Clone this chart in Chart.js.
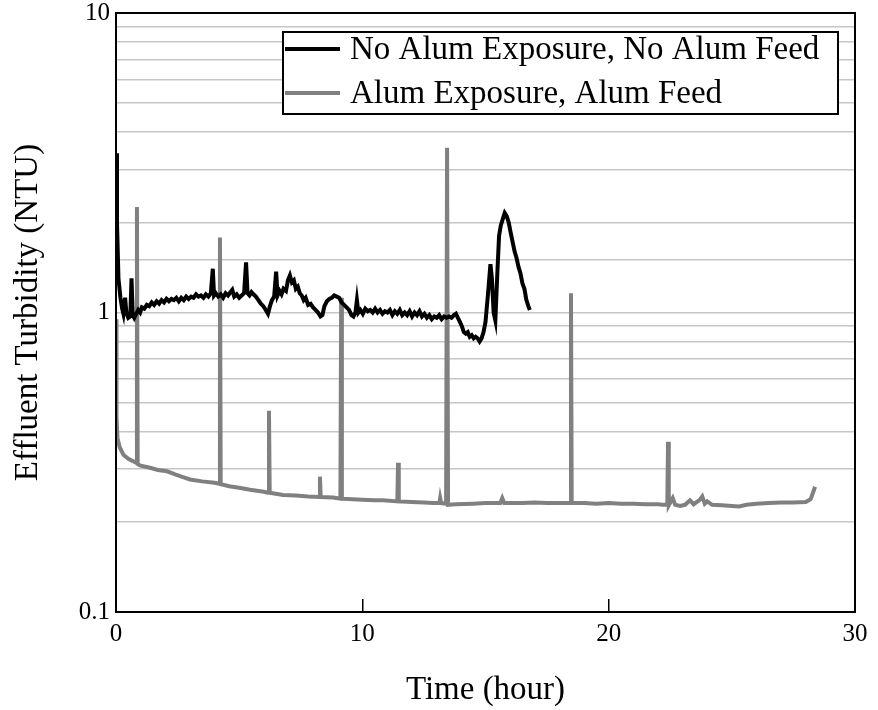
<!DOCTYPE html>
<html>
<head>
<meta charset="utf-8">
<script src="https://cdn.jsdelivr.net/npm/chart.js@4.4.1/dist/chart.umd.min.js"></script>
<style>
  html, body { margin: 0; padding: 0; background: #fff; }
  #wrap { width: 878px; height: 710px; }
</style>
</head>
<body>
<div id="wrap"><canvas id="turbidityChart" width="878" height="710"></canvas></div>
<script>
// Series labels
const seriesLabels = ['No Alum Exposure, No Alum Feed', 'Alum Exposure, Alum Feed'];

// No alum exposure, no alum feed (black)
const noAlumTime = [0, 0.04, 0.1, 0.18, 0.25, 0.3, 0.37, 0.42, 0.5, 0.58, 0.63, 0.68, 0.74, 0.82, 0.9, 0.98,
  1.05, 1.15, 1.25, 1.35, 1.45, 1.55, 1.65, 1.75, 1.85, 1.95, 2.05, 2.15, 2.25, 2.35, 2.45, 2.55, 2.65, 2.75, 2.85, 2.95,
  3.05, 3.15, 3.25, 3.35, 3.45, 3.55, 3.65, 3.75, 3.85, 3.93, 3.98, 4.05, 4.15, 4.25, 4.35, 4.45, 4.55, 4.65, 4.72, 4.8, 4.9,
  5.0, 5.1, 5.2, 5.28, 5.34, 5.42, 5.5, 5.58, 5.68, 5.78, 5.88, 5.98, 6.08, 6.17, 6.25, 6.33, 6.42, 6.5, 6.56, 6.64, 6.72, 6.8, 6.9, 6.98,
  7.06, 7.14, 7.22, 7.3, 7.38, 7.46, 7.54, 7.62, 7.7, 7.8, 7.9, 8.0, 8.1, 8.2, 8.3, 8.38, 8.46, 8.56, 8.66, 8.76, 8.86, 8.96,
  9.06, 9.16, 9.26, 9.36, 9.46, 9.56, 9.64, 9.72, 9.78, 9.84, 9.92, 10.02, 10.12, 10.22, 10.32, 10.42, 10.52, 10.62, 10.72, 10.82, 10.92,
  11.02, 11.12, 11.22, 11.32, 11.42, 11.52, 11.62, 11.72, 11.82, 11.92, 12.02, 12.12, 12.22, 12.32, 12.42, 12.52, 12.62, 12.72, 12.82, 12.92,
  13.02, 13.12, 13.22, 13.32, 13.42, 13.52, 13.62, 13.72, 13.8, 13.88, 13.96, 14.04, 14.12, 14.2, 14.28, 14.36, 14.44, 14.52, 14.6, 14.68,
  14.76, 14.84, 14.92, 15.0, 15.1, 15.2, 15.26, 15.33, 15.4, 15.48, 15.55, 15.62, 15.7, 15.78, 15.86, 15.94, 16.02, 16.1, 16.18, 16.26,
  16.34, 16.42, 16.5, 16.58, 16.66, 16.74, 16.8];
const noAlumTurbidity = [3.4, 2.0, 1.3, 1.12, 1.03, 0.99, 1.12, 1.0, 0.96, 0.97, 1.3, 0.98, 0.96, 0.99, 1.02, 1.0,
  1.04, 1.03, 1.06, 1.05, 1.08, 1.06, 1.09, 1.07, 1.1, 1.08, 1.11, 1.09, 1.11, 1.1, 1.12, 1.09, 1.12, 1.1, 1.13, 1.11,
  1.13, 1.12, 1.15, 1.13, 1.14, 1.12, 1.15, 1.13, 1.16, 1.4, 1.14, 1.16, 1.13, 1.15, 1.12, 1.16, 1.14, 1.17, 1.19, 1.13, 1.15,
  1.12, 1.14, 1.16, 1.47, 1.16, 1.14, 1.17, 1.15, 1.13, 1.1, 1.07, 1.05, 1.02, 0.99, 1.05, 1.1, 1.13, 1.37, 1.14, 1.18, 1.15, 1.2, 1.18, 1.28,
  1.33, 1.26, 1.28, 1.2, 1.22, 1.16, 1.14, 1.1, 1.12, 1.06, 1.07, 1.04, 1.02, 1.0, 0.97, 0.98, 1.05, 1.09, 1.11, 1.12, 1.14, 1.13,
  1.12, 1.08, 1.06, 1.04, 1.02, 0.98, 0.97, 1.0, 1.1, 1.0, 1.02, 0.99, 1.03, 1.01, 1.02, 1.0, 1.03, 1.0, 1.02, 0.99, 1.01,
  1.0, 1.02, 0.98, 1.01, 0.99, 1.02, 0.98, 1.0, 0.98, 1.01, 0.97, 1.0, 0.98, 1.01, 0.97, 0.99, 0.96, 0.98, 0.95, 0.97,
  0.96, 0.98, 0.95, 0.97, 0.96, 0.97, 0.96, 0.98, 0.99, 0.96, 0.93, 0.9, 0.86, 0.85, 0.86, 0.83, 0.84, 0.82, 0.83, 0.82,
  0.8, 0.82, 0.86, 0.93, 1.15, 1.45, 1.3, 1.0, 0.94, 1.35, 1.8, 1.95, 2.05, 2.15, 2.1, 2.0, 1.85, 1.72, 1.6, 1.52,
  1.42, 1.35, 1.25, 1.2, 1.1, 1.05, 1.02];

// Alum exposure, alum feed (grey)
const alumTime = [0, 0.02, 0.06, 0.15, 0.3, 0.5, 0.82, 0.85, 0.88, 1.0, 1.38, 1.7, 2.07, 2.4, 2.72, 3.0, 3.5, 4.0, 4.19, 4.22,
  4.25, 4.6, 5.0, 5.44, 6.0, 6.18, 6.21, 6.24, 6.78, 7.3, 7.8, 8.25, 8.28, 8.31, 8.81, 9.11, 9.14, 9.17, 9.6, 10.0,
  10.5, 10.84, 11.42, 11.45, 11.48, 12.0, 12.5, 12.87, 13.13, 13.16, 13.2, 13.4, 13.44, 13.48, 13.8, 14.5, 15.0, 15.6, 15.68, 15.76,
  16.5, 17.0, 17.5, 18.0, 18.44, 18.47, 18.5, 19.0, 19.5, 20.0, 20.5, 21.0, 21.5, 22.0, 22.2, 22.38, 22.41, 22.44, 22.6, 22.7,
  22.9, 23.1, 23.3, 23.45, 23.7, 23.8, 23.9, 24.0, 24.2, 24.6, 25.0, 25.3, 25.6, 26.0, 26.5, 27.0, 27.5, 28.0, 28.2, 28.38];
const alumTurbidity = [0.95, 0.45, 0.38, 0.355, 0.335, 0.325, 0.315, 2.25, 0.312, 0.308, 0.303, 0.298, 0.295, 0.288, 0.282, 0.277, 0.273, 0.27, 0.268, 1.78,
  0.267, 0.263, 0.26, 0.256, 0.252, 0.25, 0.47, 0.25, 0.246, 0.245, 0.243, 0.242, 0.283, 0.242, 0.241, 0.239, 1.12, 0.239, 0.238, 0.237,
  0.236, 0.236, 0.234, 0.315, 0.234, 0.233, 0.232, 0.231, 0.231, 0.24, 0.231, 0.23, 3.55, 0.228, 0.229, 0.23, 0.231, 0.231, 0.24, 0.231,
  0.231, 0.232, 0.231, 0.231, 0.231, 1.16, 0.231, 0.231, 0.23, 0.231, 0.23, 0.23, 0.229, 0.229, 0.228, 0.228, 0.37, 0.227, 0.24, 0.228,
  0.226, 0.228, 0.236, 0.229, 0.237, 0.243, 0.23, 0.234, 0.228, 0.227, 0.226, 0.225, 0.228, 0.23, 0.231, 0.232, 0.232, 0.233, 0.238, 0.262];

// Axis tick values
const xTicks = [0, 10, 20, 30];
const yLabelTicks = [0.1, 1, 10];

const toPoints = (xs, ys) => xs.map((x, i) => ({ x: x, y: ys[i] }));

const serif = 'Liberation Serif, Times New Roman, serif';

// Closed frame round the plot plus the legend box inside it
const framePlugin = {
  id: 'frameAndLegend',
  afterDraw(chart) {
    const { ctx, chartArea } = chart;
    ctx.save();
    ctx.strokeStyle = '#000';
    ctx.lineWidth = 2;
    ctx.strokeRect(chartArea.left, chartArea.top, chartArea.right - chartArea.left, chartArea.bottom - chartArea.top);

    // legend
    const bx = 283, by = 32, bw = 555, bh = 82;
    ctx.fillStyle = '#fff';
    ctx.fillRect(bx, by, bw, bh);
    ctx.lineWidth = 2;
    ctx.strokeRect(bx, by, bw, bh);
    ctx.font = '33px ' + serif;
    ctx.textBaseline = 'middle';
    chart.data.datasets.forEach((ds, i) => {
      const cy = by + 17 + i * 44;
      ctx.strokeStyle = ds.borderColor;
      ctx.lineWidth = 4;
      ctx.beginPath();
      ctx.moveTo(bx + 2, cy);
      ctx.lineTo(bx + 57, cy);
      ctx.stroke();
      ctx.fillStyle = '#000';
      ctx.fillText(ds.label, bx + 67, cy + 1);
    });
    ctx.restore();
  }
};

new Chart(document.getElementById('turbidityChart'), {
  type: 'line',
  data: {
    datasets: [
      {
        label: seriesLabels[0],
        data: toPoints(noAlumTime, noAlumTurbidity),
        borderColor: '#000000',
        borderWidth: 4,
        pointRadius: 0,
        tension: 0
      },
      {
        label: seriesLabels[1],
        data: toPoints(alumTime, alumTurbidity),
        borderColor: '#808080',
        borderWidth: 4,
        pointRadius: 0,
        tension: 0
      }
    ]
  },
  options: {
    responsive: false,
    animation: false,
    layout: { padding: { left: 0, top: 13, right: 23, bottom: 0 } },
    plugins: {
      legend: { display: false },
      tooltip: { enabled: false }
    },
    scales: {
      x: {
        type: 'linear',
        min: 0,
        max: 30,
        afterFit: s => { s.height = 98; s.paddingLeft = 0; s.paddingRight = 0; },
        afterBuildTicks: s => { s.ticks = xTicks.map(v => ({ value: v })); },
        grid: {
          drawOnChartArea: false,
          drawTicks: true,
          tickLength: -13,
          color: '#000',
          lineWidth: 1.5
        },
        border: { display: true, color: '#000', width: 2 },
        ticks: {
          autoSkip: false,
          maxRotation: 0,
          padding: 20,
          color: '#000',
          font: { family: serif, size: 25 }
        },
        title: {
          display: true,
          text: 'Time (hour)',
          color: '#000',
          font: { family: serif, size: 33 },
          padding: { top: 0, bottom: 0 }
        }
      },
      y: {
        type: 'logarithmic',
        min: 0.1,
        max: 10,
        afterFit: s => { s.width = 116; s.paddingTop = 0; s.paddingBottom = 0; },
        grid: {
          drawTicks: false,
          color: '#c6c6c6',
          lineWidth: 1.5
        },
        border: { display: true, color: '#000', width: 2 },
        ticks: {
          autoSkip: false,
          padding: 6,
          color: '#000',
          font: { family: serif, size: 25 },
          callback: v => {
            const hit = yLabelTicks.find(t => Math.abs(t - v) < 1e-9);
            return hit !== undefined ? String(hit) : '';
          }
        },
        title: {
          display: true,
          text: 'Effluent Turbidity (NTU)',
          color: '#000',
          font: { family: serif, size: 33 },
          padding: { top: 9, bottom: 0 }
        }
      }
    }
  },
  plugins: [framePlugin]
});
</script>
</body>
</html>
